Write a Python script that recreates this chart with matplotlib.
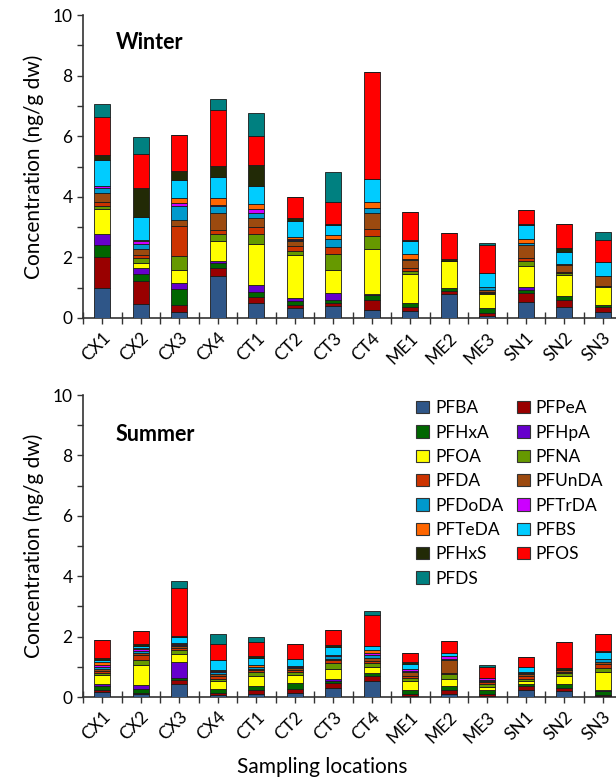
import matplotlib
matplotlib.use("Agg")
import matplotlib.pyplot as plt
import numpy as np
from matplotlib.ticker import MultipleLocator
from matplotlib.patches import Patch

plt.rcParams['font.family'] = ['Lato', 'DejaVu Sans']

sites = ["CX1", "CX2", "CX3", "CX4", "CT1", "CT2", "CT3", "CT4",
         "ME1", "ME2", "ME3", "SN1", "SN2", "SN3"]

compounds = ["PFBA", "PFPeA", "PFHxA", "PFHpA", "PFOA", "PFNA", "PFDA", "PFUnDA",
             "PFDoDA", "PFTrDA", "PFTeDA", "PFBS", "PFHxS", "PFOS", "PFDS"]

colors = ["#2f5688", "#990000", "#006600", "#6600cc", "#ffff00", "#669900",
          "#cc3300", "#9c4a0f", "#0099cc", "#cc00ff", "#ff6600", "#00ccff",
          "#222a06", "#ff0000", "#008080"]

# winter concentrations (ng/g dw), one list per compound, sites in order above
w_pfba   = [0.99, 0.46, 0.20, 1.37, 0.49, 0.33, 0.38, 0.27, 0.22, 0.79, 0.05, 0.53, 0.36, 0.19]
w_pfpea  = [1.01, 0.76, 0.24, 0.28, 0.19, 0.09, 0.11, 0.31, 0.13, 0.11, 0.11, 0.29, 0.24, 0.17]
w_pfhxa  = [0.41, 0.23, 0.52, 0.16, 0.17, 0.14, 0.11, 0.19, 0.14, 0.09, 0.17, 0.11, 0.11, 0.08]
w_pfhpa  = [0.37, 0.21, 0.19, 0.08, 0.24, 0.10, 0.22, 0.02, 0.00, 0.00, 0.00, 0.09, 0.00, 0.00]
w_pfoa   = [0.81, 0.15, 0.43, 0.64, 1.35, 1.41, 0.76, 1.48, 0.97, 0.88, 0.47, 0.71, 0.70, 0.57]
w_pfna   = [0.11, 0.16, 0.47, 0.25, 0.33, 0.13, 0.53, 0.44, 0.08, 0.00, 0.02, 0.14, 0.07, 0.06]
w_pfda   = [0.12, 0.12, 0.99, 0.13, 0.23, 0.16, 0.23, 0.24, 0.11, 0.00, 0.05, 0.11, 0.04, 0.00]
w_pfunda = [0.30, 0.18, 0.19, 0.55, 0.30, 0.17, 0.00, 0.53, 0.25, 0.00, 0.06, 0.44, 0.22, 0.33]
w_pfdoda = [0.17, 0.18, 0.47, 0.22, 0.18, 0.05, 0.26, 0.14, 0.05, 0.00, 0.08, 0.04, 0.00, 0.00]
w_pftrda = [0.05, 0.08, 0.09, 0.06, 0.12, 0.02, 0.00, 0.00, 0.00, 0.00, 0.00, 0.00, 0.00, 0.00]
w_pfteda = [0.02, 0.03, 0.16, 0.22, 0.17, 0.06, 0.15, 0.22, 0.16, 0.00, 0.00, 0.14, 0.04, 0.00]
w_pfbs   = [0.84, 0.76, 0.60, 0.68, 0.59, 0.53, 0.33, 0.74, 0.44, 0.00, 0.46, 0.48, 0.40, 0.45]
w_pfhxs  = [0.17, 0.97, 0.30, 0.38, 0.68, 0.11, 0.03, 0.00, 0.03, 0.09, 0.03, 0.03, 0.13, 0.00]
w_pfos   = [1.25, 1.12, 1.18, 1.83, 0.96, 0.68, 0.71, 3.55, 0.92, 0.84, 0.92, 0.45, 0.79, 0.71]
w_pfds   = [0.43, 0.57, 0.00, 0.38, 0.78, 0.00, 1.00, 0.00, 0.00, 0.00, 0.07, 0.00, 0.00, 0.28]

# summer concentrations (ng/g dw)
s_pfba   = [0.17, 0.09, 0.44, 0.06, 0.11, 0.13, 0.31, 0.53, 0.04, 0.11, 0.02, 0.24, 0.20, 0.03]
s_pfpea  = [0.07, 0.04, 0.11, 0.08, 0.13, 0.15, 0.15, 0.17, 0.07, 0.11, 0.09, 0.11, 0.11, 0.05]
s_pfhxa  = [0.11, 0.15, 0.09, 0.14, 0.14, 0.20, 0.06, 0.10, 0.11, 0.13, 0.13, 0.09, 0.11, 0.11]
s_pfhpa  = [0.09, 0.11, 0.52, 0.00, 0.00, 0.00, 0.09, 0.00, 0.00, 0.00, 0.00, 0.00, 0.00, 0.05]
s_pfoa   = [0.28, 0.66, 0.28, 0.25, 0.33, 0.24, 0.33, 0.19, 0.30, 0.26, 0.09, 0.08, 0.27, 0.59]
s_pfna   = [0.08, 0.19, 0.11, 0.08, 0.12, 0.11, 0.19, 0.14, 0.12, 0.14, 0.11, 0.09, 0.11, 0.14]
s_pfda   = [0.06, 0.14, 0.06, 0.08, 0.05, 0.05, 0.09, 0.06, 0.07, 0.05, 0.05, 0.08, 0.02, 0.13]
s_pfunda = [0.07, 0.08, 0.07, 0.06, 0.05, 0.07, 0.05, 0.11, 0.11, 0.42, 0.04, 0.06, 0.06, 0.05]
s_pfdoda = [0.06, 0.05, 0.04, 0.08, 0.06, 0.04, 0.08, 0.08, 0.04, 0.05, 0.04, 0.05, 0.00, 0.10]
s_pftrda = [0.07, 0.07, 0.02, 0.03, 0.00, 0.05, 0.03, 0.08, 0.06, 0.08, 0.07, 0.00, 0.00, 0.00]
s_pfteda = [0.10, 0.03, 0.06, 0.02, 0.06, 0.00, 0.00, 0.09, 0.00, 0.00, 0.00, 0.02, 0.00, 0.00]
s_pfbs   = [0.06, 0.08, 0.18, 0.36, 0.25, 0.23, 0.28, 0.13, 0.18, 0.11, 0.00, 0.16, 0.00, 0.24]
s_pfhxs  = [0.08, 0.08, 0.03, 0.00, 0.05, 0.00, 0.05, 0.00, 0.05, 0.00, 0.00, 0.02, 0.09, 0.03]
s_pfos   = [0.58, 0.41, 1.60, 0.53, 0.47, 0.48, 0.52, 1.03, 0.31, 0.39, 0.35, 0.33, 0.85, 0.55]
s_pfds   = [0.00, 0.00, 0.24, 0.30, 0.17, 0.00, 0.00, 0.13, 0.00, 0.00, 0.07, 0.00, 0.00, 0.00]

winter = [w_pfba, w_pfpea, w_pfhxa, w_pfhpa, w_pfoa, w_pfna, w_pfda, w_pfunda,
          w_pfdoda, w_pftrda, w_pfteda, w_pfbs, w_pfhxs, w_pfos, w_pfds]
summer = [s_pfba, s_pfpea, s_pfhxa, s_pfhpa, s_pfoa, s_pfna, s_pfda, s_pfunda,
          s_pfdoda, s_pftrda, s_pfteda, s_pfbs, s_pfhxs, s_pfos, s_pfds]


def stacked(ax, series, title, title_y):
    x = np.arange(len(sites))
    bottom = np.zeros(len(sites))
    for vals, c in zip(series, colors):
        vals = np.array(vals)
        ax.bar(x, vals, 0.42, bottom=bottom, color=c, edgecolor="#1a1a1a",
               linewidth=0.6, zorder=3)
        bottom += vals
    ax.set_xlim(-0.5, len(sites) - 0.5)
    ax.set_ylim(0, 10)
    ax.yaxis.set_major_locator(MultipleLocator(2))
    ax.yaxis.set_minor_locator(MultipleLocator(1))
    ax.set_xticks(x)
    ax.set_xticklabels(sites, rotation=45, ha="right", rotation_mode="anchor")
    ax.set_xticks(np.arange(len(sites) + 1) - 0.5, minor=True)
    ax.tick_params(axis="x", which="major", direction="out", length=4.5,
                   width=1, color="#333333", labelsize=12.5, pad=4)
    ax.tick_params(axis="x", which="minor", direction="inout", length=9,
                   width=1, color="#333333")
    ax.tick_params(axis="y", which="both", direction="out", length=4,
                   width=1, color="#333333", labelsize=12.5)
    for s in ["top", "right"]:
        ax.spines[s].set_visible(False)
    for s in ["left", "bottom"]:
        ax.spines[s].set_color("#333333")
        ax.spines[s].set_linewidth(1.2)
    ax.set_ylabel("Concentration (ng/g dw)", fontsize=15, labelpad=6)
    ax.text(0.061, title_y, title, transform=ax.transAxes, fontsize=15.5,
            fontweight="bold", va="center", ha="left")


fig = plt.figure(figsize=(6.16, 7.82), dpi=100)
ax1 = fig.add_axes([83 / 616, 1 - 318 / 782, 539 / 616, 303 / 782])
ax2 = fig.add_axes([83 / 616, 1 - 697 / 782, 539 / 616, 302 / 782])

stacked(ax1, winter, "Winter", 0.91)
stacked(ax2, summer, "Summer", 0.87)
ax2.set_xlabel("Sampling locations", fontsize=15)
ax2.xaxis.set_label_coords(0.443, -0.2)

# legend filled row by row: two columns
handles = [Patch(facecolor=c, edgecolor="#333333", linewidth=0.8, label=n)
           for n, c in zip(compounds, colors)]
order = list(range(0, 15, 2)) + list(range(1, 15, 2))
ax2.legend([handles[i] for i in order], [compounds[i] for i in order],
           ncol=2, frameon=False, loc="upper left",
           bbox_to_anchor=((406 - 83) / 539, 1.017), fontsize=12.5,
           handlelength=0.72, handleheight=0.72, handletextpad=0.35,
           labelspacing=0.48, columnspacing=0.8, borderaxespad=0.2)

fig.savefig("out.png", dpi=100)
